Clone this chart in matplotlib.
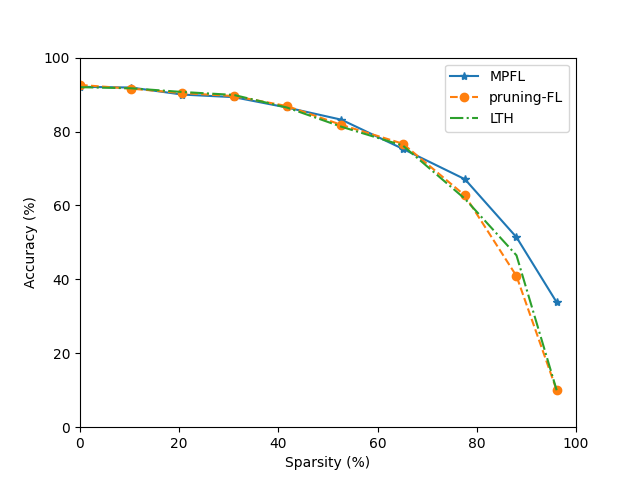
from matplotlib import pyplot as plt

sparsity = [0, 10.3, 20.6, 31.0, 41.7, 52.7, 65.1, 77.6, 88.0, 96.1]
mpfl = [92.1, 91.9, 90.0, 89.3, 86.5, 83.2, 75.3, 67.1, 51.4, 33.8]
pruning_fl = [92.6, 91.6, 90.4, 89.6, 86.9, 81.8, 76.7, 62.7, 40.9, 10.0]
lth = [92.0, 91.7, 90.7, 89.9, 86.5, 81.3, 76.2, 61.8, 46.5, 10.0]

plt.figure(figsize=(6.4, 4.8), dpi=100)
plt.plot(sparsity, mpfl, '-*', label='MPFL')
plt.plot(sparsity, pruning_fl, '--o', label='pruning-FL')
plt.plot(sparsity, lth, '-.', label='LTH')
plt.xlim(0, 100)
plt.ylim(0, 100)
plt.xlabel('Sparsity (%)')
plt.ylabel('Accuracy (%)')
plt.legend()
plt.savefig('out.png')
